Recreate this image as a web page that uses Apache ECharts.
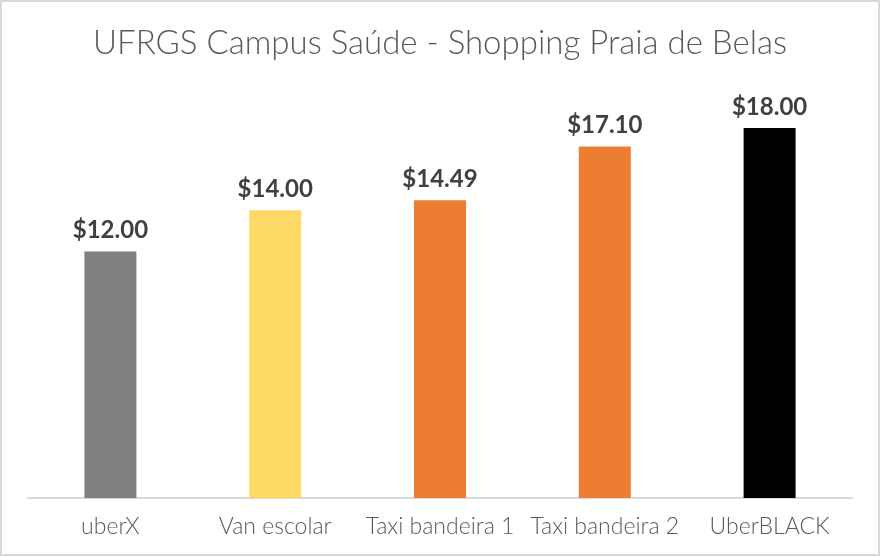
<!DOCTYPE html>
<html>
<head>
<meta charset="utf-8">
<script src="https://cdn.jsdelivr.net/npm/echarts@6/dist/echarts.min.js"></script>
<style>
  html, body { margin: 0; padding: 0; background: #fff; }
  #chart {
    width: 880px; height: 556px;
    box-sizing: border-box;
    border: 2px solid #d9d9d9;
  }
</style>
</head>
<body>
<div id="chart"></div>
<script>
  // dados
  var categories = ['uberX', 'Van escolar', 'Taxi bandeira 1', 'Taxi bandeira 2', 'UberBLACK']
  var prices = [12.00, 14.00, 14.49, 17.10, 18.00]
  var barColors = ['#7f7f7f', '#ffd966', '#ed7d31', '#ed7d31', '#000000']

  var myChart = echarts.init(document.getElementById('chart'))
  window.onresize = myChart.resize

  var option = {
    animation: false,
    title: {
      text: 'UFRGS Campus Saúde - Shopping Praia de Belas',
      left: 'center',
      top: 20,
      textStyle: {
        fontFamily: 'Lato',
        fontWeight: 300,
        fontSize: 33,
        color: '#595959'
      }
    },
    grid: {
      left: 26,
      right: 26,
      top: 85,
      bottom: 56
    },
    xAxis: {
      type: 'category',
      data: categories,
      axisLine: { lineStyle: { color: '#d9d9d9', width: 2 } },
      axisTick: { show: false },
      axisLabel: {
        margin: 17,
        interval: 0,
        fontFamily: 'Lato',
        fontWeight: 300,
        fontSize: 23,
        color: '#595959'
      }
    },
    yAxis: {
      type: 'value',
      min: 0,
      max: 20,
      show: false,
      splitLine: { show: false }
    },
    series: [{
      type: 'bar',
      barWidth: 52,
      data: prices.map(function (v, i) {
        return { value: v, itemStyle: { color: barColors[i] } }
      }),
      label: {
        show: true,
        position: 'top',
        distance: 9,
        fontFamily: 'Lato',
        fontWeight: 'bold',
        fontSize: 24,
        color: '#404040',
        formatter: function (p) {
          return '$' + p.value.toFixed(2)
        }
      }
    }]
  }
  myChart.setOption(option)
</script>
</body>
</html>
